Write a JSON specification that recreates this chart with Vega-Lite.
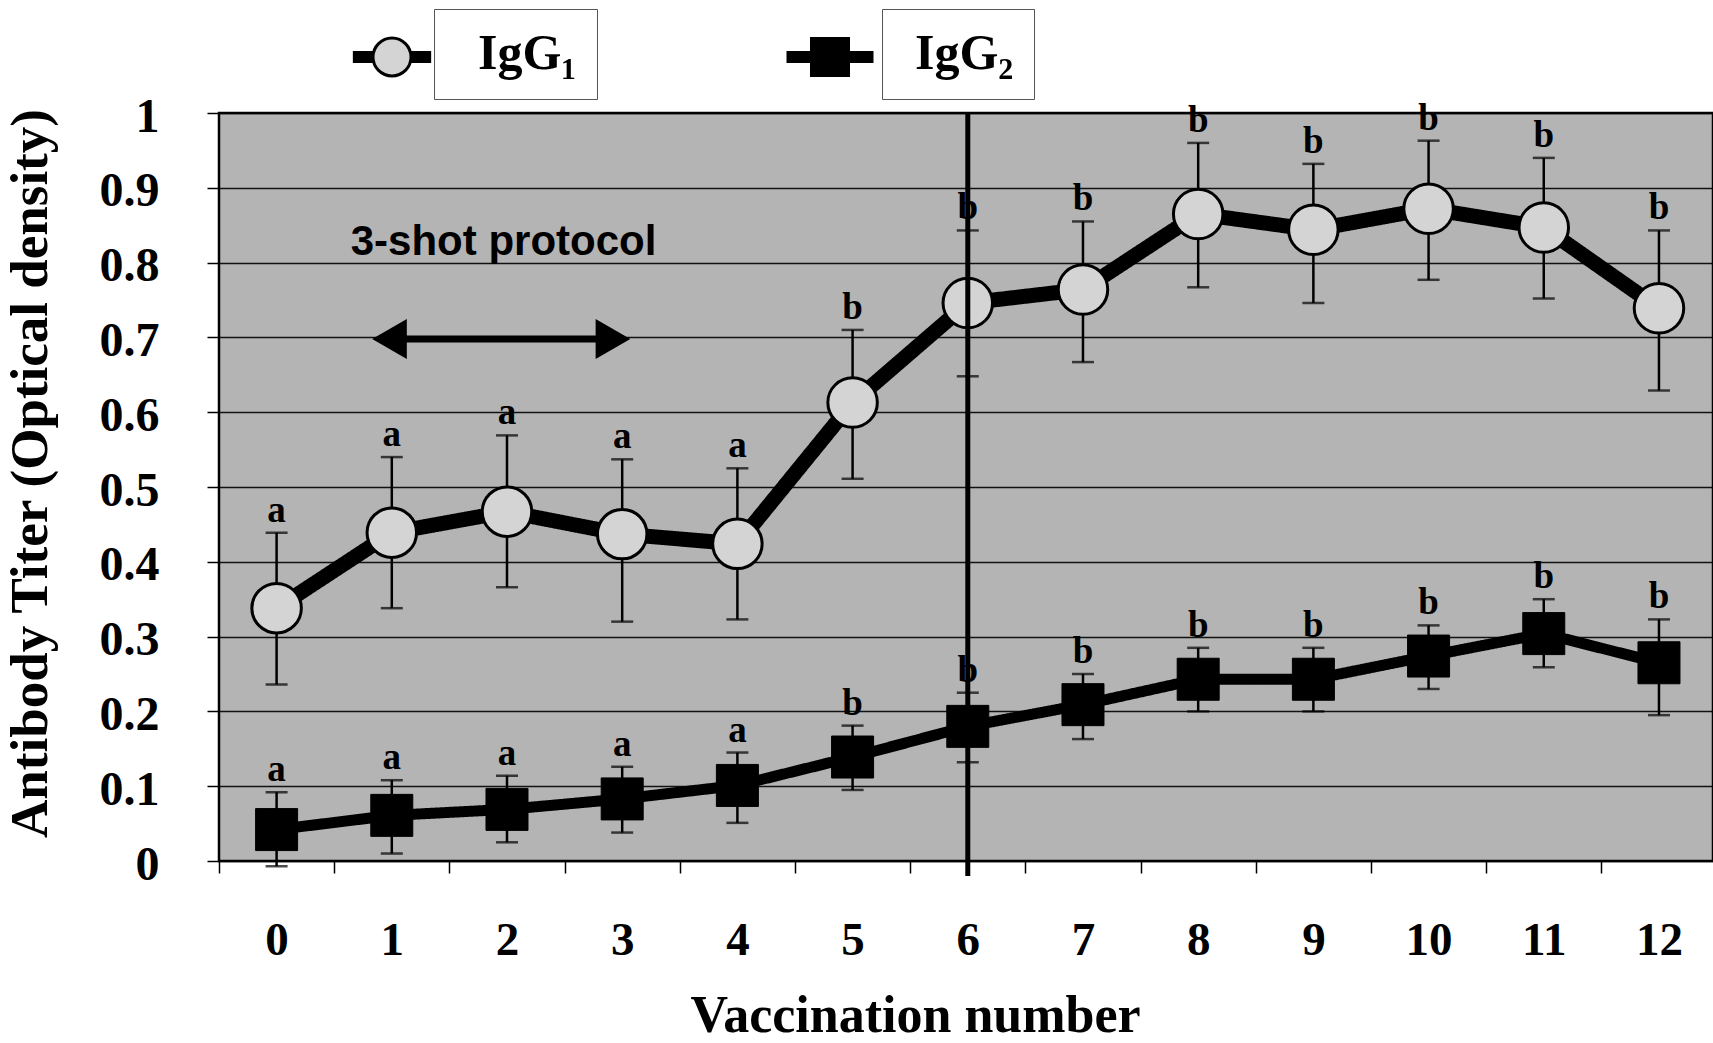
{
  "$schema": "https://vega.github.io/schema/vega-lite/v6.json",
  "width": 1494,
  "height": 748,
  "autosize": {"type": "none"},
  "padding": {"left": 219, "top": 113, "right": 0, "bottom": 182},
  "background": "white",
  "config": {
    "view": {"stroke": "black", "strokeWidth": 2.5, "fill": "#b4b4b4"},
    "axis": {"labelFont": "Liberation Serif", "labelFontWeight": "bold", "labelColor": "black", "titleFont": "Liberation Serif", "titleFontWeight": "bold", "titleColor": "black", "tickColor": "black", "domain": false},
    "axisX": {"grid": false, "tickSize": 12, "tickWidth": 1.5, "labelFontSize": 47, "labelPadding": 44, "titleFontSize": 52, "labelAngle": 0},
    "axisY": {"gridColor": "black", "gridWidth": 1.3, "gridOpacity": 0.9, "tickSize": 12, "tickWidth": 1.5, "labelFontSize": 48, "labelPadding": 48, "titleFontSize": 53, "titlePadding": 42}
  },
  "data": {"values": [
    {"v": 0, "series": "IgG₁", "mean": 0.338, "lo": 0.236, "hi": 0.439, "letter": "a"},
    {"v": 1, "series": "IgG₁", "mean": 0.439, "lo": 0.338, "hi": 0.540, "letter": "a"},
    {"v": 2, "series": "IgG₁", "mean": 0.467, "lo": 0.366, "hi": 0.569, "letter": "a"},
    {"v": 3, "series": "IgG₁", "mean": 0.437, "lo": 0.320, "hi": 0.537, "letter": "a"},
    {"v": 4, "series": "IgG₁", "mean": 0.424, "lo": 0.323, "hi": 0.525, "letter": "a"},
    {"v": 5, "series": "IgG₁", "mean": 0.613, "lo": 0.511, "hi": 0.710, "letter": "b"},
    {"v": 6, "series": "IgG₁", "mean": 0.746, "lo": 0.648, "hi": 0.843, "letter": "b"},
    {"v": 7, "series": "IgG₁", "mean": 0.764, "lo": 0.667, "hi": 0.855, "letter": "b"},
    {"v": 8, "series": "IgG₁", "mean": 0.865, "lo": 0.767, "hi": 0.960, "letter": "b"},
    {"v": 9, "series": "IgG₁", "mean": 0.844, "lo": 0.746, "hi": 0.932, "letter": "b"},
    {"v": 10, "series": "IgG₁", "mean": 0.872, "lo": 0.777, "hi": 0.963, "letter": "b"},
    {"v": 11, "series": "IgG₁", "mean": 0.847, "lo": 0.752, "hi": 0.940, "letter": "b"},
    {"v": 12, "series": "IgG₁", "mean": 0.739, "lo": 0.629, "hi": 0.843, "letter": "b"},
    {"v": 0, "series": "IgG₂", "mean": 0.042, "lo": -0.007, "hi": 0.092, "letter": "a"},
    {"v": 1, "series": "IgG₂", "mean": 0.061, "lo": 0.010, "hi": 0.108, "letter": "a"},
    {"v": 2, "series": "IgG₂", "mean": 0.069, "lo": 0.025, "hi": 0.114, "letter": "a"},
    {"v": 3, "series": "IgG₂", "mean": 0.083, "lo": 0.038, "hi": 0.126, "letter": "a"},
    {"v": 4, "series": "IgG₂", "mean": 0.101, "lo": 0.051, "hi": 0.145, "letter": "a"},
    {"v": 5, "series": "IgG₂", "mean": 0.139, "lo": 0.095, "hi": 0.181, "letter": "b"},
    {"v": 6, "series": "IgG₂", "mean": 0.180, "lo": 0.132, "hi": 0.225, "letter": "b"},
    {"v": 7, "series": "IgG₂", "mean": 0.209, "lo": 0.163, "hi": 0.250, "letter": "b"},
    {"v": 8, "series": "IgG₂", "mean": 0.243, "lo": 0.200, "hi": 0.285, "letter": "b"},
    {"v": 9, "series": "IgG₂", "mean": 0.243, "lo": 0.200, "hi": 0.285, "letter": "b"},
    {"v": 10, "series": "IgG₂", "mean": 0.274, "lo": 0.230, "hi": 0.315, "letter": "b"},
    {"v": 11, "series": "IgG₂", "mean": 0.304, "lo": 0.259, "hi": 0.350, "letter": "b"},
    {"v": 12, "series": "IgG₂", "mean": 0.265, "lo": 0.195, "hi": 0.323, "letter": "b"}
  ]},
  "layer": [
    {
      "transform": [{"filter": {"field": "series", "equal": "IgG₁"}}],
      "mark": {"type": "line", "color": "black", "strokeWidth": 15},
      "encoding": {
        "x": {"field": "v", "type": "quantitative", "title": "Vaccination number",
          "scale": {"domain": [-0.5, 12.469], "nice": false, "zero": false},
          "axis": {"values": [0,1,2,3,4,5,6,7,8,9,10,11,12], "tickOffset": -57.6, "labelOffset": 57.6, "format": "d", "titleX": 696, "titleY": 170, "titleBaseline": "alphabetic", "titleAlign": "center"}},
        "y": {"field": "mean", "type": "quantitative", "title": "Antibody Titer (Optical density)",
          "scale": {"domain": [0, 1], "nice": false, "zero": false},
          "axis": {"values": [0,0.1,0.2,0.3,0.4,0.5,0.6,0.7,0.8,0.9,1], "format": "~g", "labelOffset": 4, "titleY": 360}},
        "strokeDash": {"field": "series", "type": "nominal", "scale": {"range": [[1, 0]]},
          "legend": {"orient": "none", "legendX": 215, "legendY": -104, "title": null, "padding": 20, "strokeColor": "#555",
            "symbolSize": 0, "symbolOpacity": 0, "symbolStrokeWidth": 0, "labelOffset": -26,
            "labelFont": "Liberation Serif", "labelFontSize": 50, "labelFontWeight": "bold", "labelColor": "black", "labelBaseline": "middle"}}
      }
    },
    {
      "transform": [{"filter": {"field": "series", "equal": "IgG₂"}}],
      "mark": {"type": "line", "color": "black", "strokeWidth": 11},
      "encoding": {
        "x": {"field": "v", "type": "quantitative", "title": "Vaccination number", "scale": {"domain": [-0.5, 12.469], "nice": false, "zero": false}},
        "y": {"field": "mean", "type": "quantitative", "title": "Antibody Titer (Optical density)", "scale": {"domain": [0, 1], "nice": false, "zero": false}},
        "strokeDash": {"field": "series", "type": "nominal", "scale": {"range": [[1, 0]]},
          "legend": {"orient": "none", "legendX": 663, "legendY": -104, "title": null, "padding": 20, "strokeColor": "#555",
            "symbolSize": 0, "symbolOpacity": 0, "symbolStrokeWidth": 0, "labelOffset": -37,
            "labelFont": "Liberation Serif", "labelFontSize": 50, "labelFontWeight": "bold", "labelColor": "black", "labelBaseline": "middle"}}
      }
    },
    {
      "mark": {"type": "errorbar", "color": "black", "ticks": {"size": 22, "thickness": 2.5, "color": "black"}, "rule": {"strokeWidth": 2.5, "color": "black"}},
      "encoding": {
        "x": {"field": "v", "type": "quantitative", "title": "Vaccination number", "scale": {"domain": [-0.5, 12.469], "nice": false, "zero": false}},
        "y": {"field": "lo", "type": "quantitative", "title": "Antibody Titer (Optical density)", "scale": {"domain": [0, 1], "nice": false, "zero": false}},
        "y2": {"field": "hi"}
      }
    },
    {
      "transform": [{"filter": {"field": "series", "equal": "IgG₁"}}],
      "mark": {"type": "point", "filled": true, "fill": "black", "stroke": "transparent", "strokeWidth": 0, "size": 10, "opacity": 0},
      "encoding": {
        "x": {"field": "v", "type": "quantitative", "title": "Vaccination number", "scale": {"domain": [-0.5, 12.469], "nice": false, "zero": false}},
        "y": {"field": "mean", "type": "quantitative", "title": "Antibody Titer (Optical density)", "scale": {"domain": [0, 1], "nice": false, "zero": false}},
        "shape": {"field": "series", "type": "nominal", "scale": {"range": ["M-0.9,-0.14L0.9,-0.14L0.9,0.14L-0.9,0.14Z"]},
          "legend": {"orient": "none", "legendX": 129.5, "legendY": -99.5, "title": null, "padding": 0, "zindex": 0,
            "symbolSize": 7569, "symbolOpacity": 1, "symbolStrokeWidth": 0, "symbolFillColor": "black",
            "labelExpr": "''", "labelFontSize": 1}}
      }
    },
    {
      "transform": [{"filter": {"field": "series", "equal": "IgG₂"}}],
      "mark": {"type": "point", "filled": true, "fill": "black", "stroke": "transparent", "strokeWidth": 0, "size": 10, "opacity": 0},
      "encoding": {
        "x": {"field": "v", "type": "quantitative", "title": "Vaccination number", "scale": {"domain": [-0.5, 12.469], "nice": false, "zero": false}},
        "y": {"field": "mean", "type": "quantitative", "title": "Antibody Titer (Optical density)", "scale": {"domain": [0, 1], "nice": false, "zero": false}},
        "shape": {"field": "series", "type": "nominal", "scale": {"range": ["M-1,-0.14L1,-0.14L1,0.14L-1,0.14Z M-0.46,-0.46L0.46,-0.46L0.46,0.46L-0.46,0.46Z"]},
          "legend": {"orient": "none", "legendX": 567.5, "legendY": -99.5, "title": null, "padding": 0, "zindex": 0,
            "symbolSize": 7569, "symbolOpacity": 1, "symbolStrokeWidth": 0, "symbolFillColor": "black",
            "labelExpr": "''", "labelFontSize": 1}}
      }
    },
    {
      "transform": [{"filter": {"field": "series", "equal": "IgG₁"}}],
      "mark": {"type": "point", "filled": true, "fill": "#d4d4d4", "stroke": "black", "strokeWidth": 3, "size": 2450, "opacity": 1},
      "encoding": {
        "x": {"field": "v", "type": "quantitative", "title": "Vaccination number", "scale": {"domain": [-0.5, 12.469], "nice": false, "zero": false}},
        "y": {"field": "mean", "type": "quantitative", "title": "Antibody Titer (Optical density)", "scale": {"domain": [0, 1], "nice": false, "zero": false}},
        "shape": {"field": "series", "type": "nominal", "scale": {"range": ["circle"]},
          "legend": {"orient": "none", "legendX": 152.5, "legendY": -76.5, "title": null, "padding": 0, "zindex": 1,
            "symbolSize": 1444, "symbolStrokeWidth": 3, "symbolOpacity": 1,
            "labelExpr": "''", "labelFontSize": 1}}
      }
    },
    {
      "transform": [{"filter": {"field": "series", "equal": "IgG₂"}}],
      "mark": {"type": "point", "shape": "square", "filled": true, "fill": "black", "stroke": "black", "strokeWidth": 1, "size": 1764, "opacity": 1},
      "encoding": {
        "x": {"field": "v", "type": "quantitative", "title": "Vaccination number", "scale": {"domain": [-0.5, 12.469], "nice": false, "zero": false}},
        "y": {"field": "mean", "type": "quantitative", "title": "Antibody Titer (Optical density)", "scale": {"domain": [0, 1], "nice": false, "zero": false}}
      }
    },
    {
      "mark": {"type": "text", "font": "Liberation Serif", "fontWeight": "bold", "fontSize": 37, "baseline": "alphabetic", "dy": -11, "color": "black"},
      "encoding": {
        "x": {"field": "v", "type": "quantitative", "title": "Vaccination number", "scale": {"domain": [-0.5, 12.469], "nice": false, "zero": false}},
        "y": {"field": "hi", "type": "quantitative", "title": "Antibody Titer (Optical density)", "scale": {"domain": [0, 1], "nice": false, "zero": false}},
        "text": {"field": "letter"}
      }
    },
    {
      "data": {"values": [{}]},
      "mark": {"type": "rule", "strokeWidth": 5, "color": "black"},
      "encoding": {
        "x": {"datum": 6, "type": "quantitative", "title": "Vaccination number"},
        "y": {"datum": -0.02, "type": "quantitative", "title": "Antibody Titer (Optical density)"},
        "y2": {"datum": 1}
      }
    },
    {
      "data": {"values": [{"label": "3-shot protocol"}]},
      "mark": {"type": "text", "font": "Liberation Sans", "fontWeight": "bold", "fontSize": 42, "align": "center", "baseline": "middle", "color": "black"},
      "encoding": {
        "x": {"datum": 1.97, "type": "quantitative", "title": "Vaccination number"},
        "y": {"datum": 0.828, "type": "quantitative", "title": "Antibody Titer (Optical density)"},
        "text": {"field": "label"}
      }
    },
    {
      "data": {"values": [{}]},
      "mark": {"type": "rule", "strokeWidth": 7, "color": "black"},
      "encoding": {
        "x": {"datum": 1.05, "type": "quantitative", "title": "Vaccination number"},
        "x2": {"datum": 2.85},
        "y": {"datum": 0.698, "type": "quantitative", "title": "Antibody Titer (Optical density)"}
      }
    },
    {
      "data": {"values": [{}]},
      "mark": {"type": "point", "shape": "triangle-left", "filled": true, "color": "black", "size": 1600, "opacity": 1},
      "encoding": {
        "x": {"datum": 0.98, "type": "quantitative", "title": "Vaccination number"},
        "y": {"datum": 0.698, "type": "quantitative", "title": "Antibody Titer (Optical density)"}
      }
    },
    {
      "data": {"values": [{}]},
      "mark": {"type": "point", "shape": "triangle-right", "filled": true, "color": "black", "size": 1600, "opacity": 1},
      "encoding": {
        "x": {"datum": 2.92, "type": "quantitative", "title": "Vaccination number"},
        "y": {"datum": 0.698, "type": "quantitative", "title": "Antibody Titer (Optical density)"}
      }
    }
  ],
  "resolve": {"scale": {"shape": "independent", "strokeDash": "independent"}, "legend": {"shape": "independent", "strokeDash": "independent"}}
}
